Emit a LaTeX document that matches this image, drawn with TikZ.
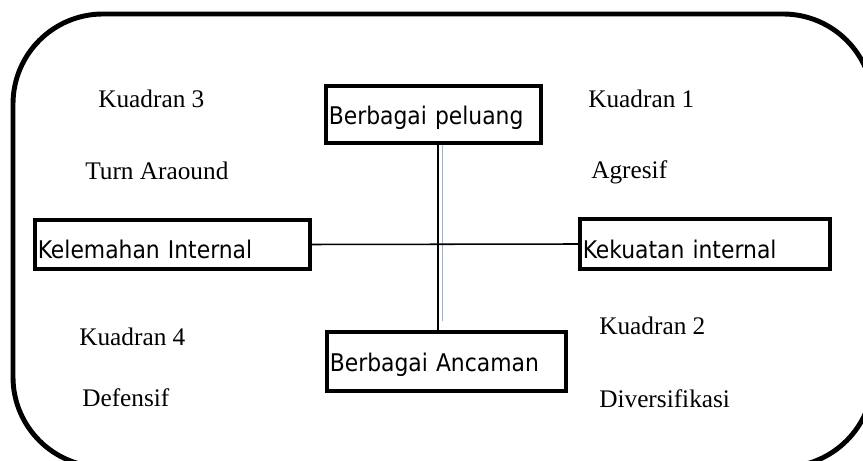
\documentclass[tikz,border=0pt]{standalone}
\usepackage{fontspec}
\usepackage{tikz}
\usepackage{xcolor}
\usetikzlibrary{positioning, calc}
\setmainfont{Liberation Serif}
\newfontfamily\kotakfont{DejaVu Sans Condensed}
\definecolor{GarisHitam}{HTML}{000000}
\definecolor{GarisBiru}{HTML}{9DB3D3}
\tikzset{
    % Box styles - sharp corners, thick border
    kotak/.style={
        rectangle,
        draw=GarisHitam,
        line width=2.8pt,
        inner xsep=0.07cm,
        inner ysep=0pt,
        text height=0.6cm,
        text depth=0.08cm,
        align=left,
        font=\kotakfont\fontsize{17.3}{20}\selectfont
    },
    kotakrendah/.style={
        kotak,
        text height=0.78cm,
        text depth=0.06cm
    },
    % Quadrant labels
    teks/.style={
        anchor=base west,
        inner sep=0pt,
        font=\fontsize{18}{21}\selectfont
    },
    % Line styles
    garis/.style={
        draw=GarisHitam,
        line width=1.1pt
    },
    garisbiru/.style={
        draw=GarisBiru,
        double=white,
        line width=0.7pt,
        double distance=0.7pt
    },
    bingkai/.style={
        draw=GarisHitam,
        line width=3.5pt,
        rounded corners=2.25cm
    }
}

\begin{document}
\begin{tikzpicture}
    \useasboundingbox (0,0) rectangle (21.575,11.525);
    \begin{scope}
        \clip (0,0) rectangle (21.575,11.525);
        \draw[bingkai] (0.325,11.175) rectangle (21.825,-0.15);
    \end{scope}

    \coordinate (pusat) at (10.95,5.475);
    \coordinate (biruatas) at (11.075,7.95);
    \coordinate (birubawah) at (11.075,3.5);
    \draw[garisbiru] (biruatas) -- (birubawah);

    \node[kotak, text width=5.235cm, minimum height=1.425cm] (peluang) at (10.8375,8.6625) {Berbagai peluang};
    \node[kotakrendah, text width=6.735cm, minimum height=1.225cm] (kelemahan) at (4.3125,5.4125) {Kelemahan Internal};
    \node[kotakrendah, text width=6.11cm, minimum height=1.25cm] (kekuatan) at (17.625,5.425) {Kekuatan internal};
    \node[kotak, text width=5.835cm, minimum height=1.475cm] (ancaman) at (11.1625,2.4875) {Berbagai Ancaman};

    \draw[garis] (kelemahan.east) -- (kekuatan.west);
    \draw[garis] (peluang.south -| pusat) -- (ancaman.north -| pusat);

    \node[teks] (kuadran3) at (2.45,8.825) {Kuadran 3};
    \node[teks] (turnaround) at (2.125,7.025) {Turn Araound};
    \node[teks] (kuadran1) at (14.7,8.825) {Kuadran 1};
    \node[teks] (agresif) at (14.775,7.05) {Agresif};
    \node[teks] (kuadran4) at (1.975,2.875) {Kuadran 4};
    \node[teks] (defensif) at (2.05,1.35) {Defensif};
    \node[teks] (kuadran2) at (14.975,3.15) {Kuadran 2};
    \node[teks] (diversifikasi) at (14.975,1.325) {Diversifikasi};
\end{tikzpicture}
\end{document}
